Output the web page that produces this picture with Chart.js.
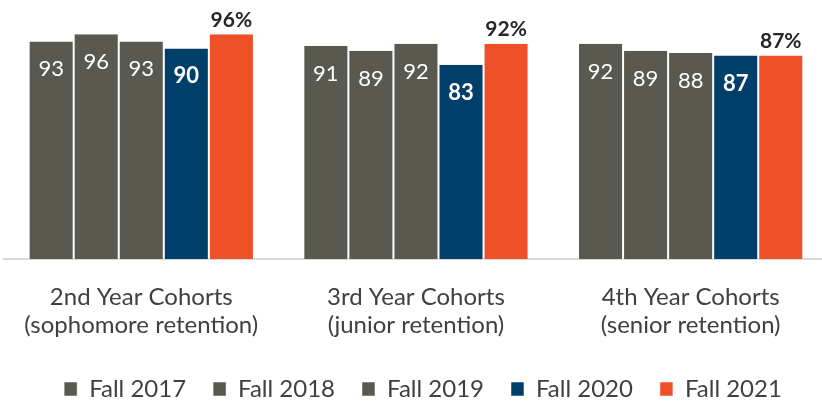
<!DOCTYPE html>
<html lang="en">
<head>
    <meta charset="UTF-8">
    <title>Retention by Cohort</title>
    <script src="https://cdn.jsdelivr.net/npm/chart.js"></script>
    <style>
        body {
            margin: 0;
            padding: 0;
            background-color: #fff;
            overflow: hidden;
        }

        /* um pouco mais largo que a janela: a area do grafico passa da borda direita */
        #wrap {
            width: 828px;
            height: 405px;
        }
    </style>
</head>
<body>
    <div id="wrap">
        <canvas id="retentionChart"></canvas>
    </div>

    <script>
        // Dados do gráfico
        var cohorts = [
            ['2nd Year Cohorts', '(sophomore retention)'],
            ['3rd Year Cohorts', '(junior retention)'],
            ['4th Year Cohorts', '(senior retention)']
        ];
        var fall2017 = [93, 91, 92];
        var fall2018 = [96, 89, 89];
        var fall2019 = [93, 92, 88];
        var fall2020 = [90, 83, 87];
        var fall2021 = [96, 92, 87];

        var gray = '#595950';
        var navy = '#003f6a';
        var orange = '#ee5128';
        var FONT = 'Lato, "Liberation Sans", sans-serif';

        // Rótulos sobre as barras
        var barLabels = {
            id: 'barLabels',
            afterDatasetsDraw: function (chart) {
                var ctx = chart.ctx;
                ctx.save();
                ctx.textAlign = 'center';
                ctx.textBaseline = 'middle';
                chart.data.datasets.forEach(function (ds, i) {
                    var meta = chart.getDatasetMeta(i);
                    meta.data.forEach(function (bar, j) {
                        var v = ds.data[j];
                        if (i === 4) {
                            ctx.fillStyle = '#262626';
                            ctx.font = 'bold 21px ' + FONT;
                            ctx.fillText(v + '%', bar.x, bar.y - 14);
                        } else {
                            ctx.fillStyle = '#ffffff';
                            ctx.font = (i === 3 ? 'bold ' : '') + '22px ' + FONT;
                            ctx.fillText(v, bar.x, bar.y + 28);
                        }
                    });
                });
                ctx.restore();
            }
        };

        // Legenda: altura fixa e um pequeno deslocamento para a direita
        var legendFix = {
            id: 'legendFix',
            beforeInit: function (chart) {
                var fit = chart.legend.fit;
                chart.legend.fit = function () {
                    fit.bind(chart.legend)();
                    this.height = 55;
                };
            },
            afterLayout: function (chart) {
                chart.legend.left += 8;
                chart.legend.right += 8;
            }
        };

        function bars(label, data, color) {
            return {
                label: label,
                data: data,
                backgroundColor: color,
                borderColor: '#ffffff',
                borderWidth: { left: 1, right: 1 },
                barPercentage: 1,
                categoryPercentage: 0.82
            };
        }

        var ctx = document.getElementById('retentionChart').getContext('2d');
        var chart = new Chart(ctx, {
            type: 'bar',
            data: {
                labels: cohorts,
                datasets: [
                    bars('Fall 2017', fall2017, gray),
                    bars('Fall 2018', fall2018, gray),
                    bars('Fall 2019', fall2019, gray),
                    bars('Fall 2020', fall2020, navy),
                    bars('Fall 2021', fall2021, orange)
                ]
            },
            options: {
                responsive: true,
                maintainAspectRatio: false,
                animation: false,
                layout: {
                    padding: { top: 25, left: 2, right: 0, bottom: 0 }
                },
                plugins: {
                    tooltip: { enabled: false },
                    legend: {
                        position: 'bottom',
                        labels: {
                            boxWidth: 13,
                            boxHeight: 14,
                            padding: 27,
                            color: '#404040',
                            font: { family: FONT, size: 24 }
                        }
                    }
                },
                scales: {
                    x: {
                        grid: { display: false, drawTicks: false },
                        border: { color: '#d9d9d9', width: 2 },
                        ticks: {
                            color: '#404040',
                            padding: 24,
                            font: { family: FONT, size: 24, lineHeight: 1.167 }
                        },
                        afterFit: function (scale) {
                            scale.height = 91;
                        }
                    },
                    y: {
                        display: false,
                        min: 0,
                        max: 100
                    }
                }
            },
            plugins: [barLabels, legendFix]
        });
    </script>
</body>
</html>
